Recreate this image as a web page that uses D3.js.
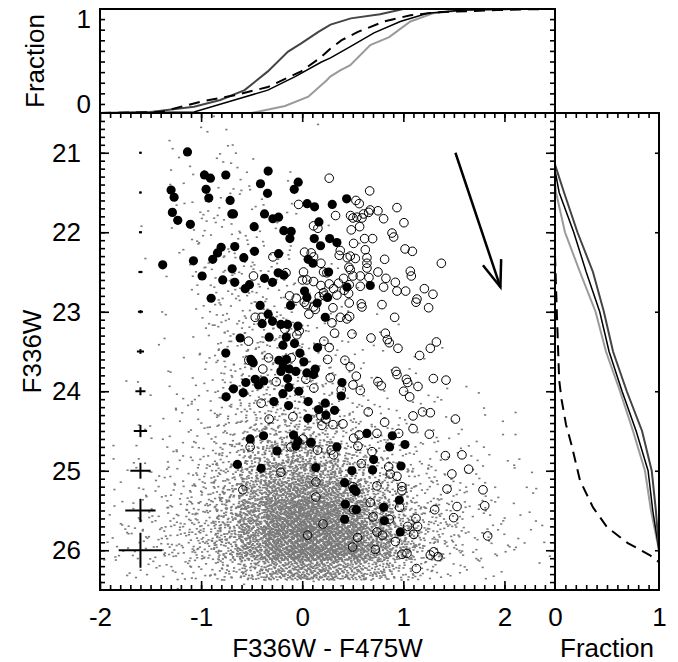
<!DOCTYPE html>
<html>
<head>
<meta charset="utf-8">
<script src="https://cdn.jsdelivr.net/npm/d3@7"></script>
<style>
  body { margin: 0; background: #fff; }
  svg { display: block; font-family: "Liberation Sans", Arial, Helvetica, sans-serif; }
  .tick text { font-size: 26px; font-family: "Liberation Sans", Arial, Helvetica, sans-serif; fill: #000; }
  .tick line { stroke: #000; stroke-width: 1.6; }
  .title { font-size: 26px; fill: #000; }
</style>
</head>
<body>
<div id="chart"></div>
<script>
// filled stars [F336W-F475W, F336W]
const filledStars = [
  [-1.135,20.99],[-0.967,21.28],[-0.908,21.32],[-0.756,21.28],[-0.337,21.23],[-0.413,21.39],[-0.040,21.37],[-0.079,21.46],
  [-0.343,21.51],[-1.297,21.47],[-1.267,21.56],[-0.951,21.46],[-0.924,21.57],[-0.713,21.60],[-1.284,21.75],[-1.231,21.85],
  [-1.106,21.90],[-0.696,21.77],[-0.680,21.77],[-0.373,21.77],[-0.290,21.83],[-0.234,21.81],[-0.475,21.93],[0.049,21.64],
  [0.122,21.68],[0.297,21.65],[0.439,21.58],[-0.182,21.98],[-0.109,21.99],[-0.122,22.08],[0.165,21.87],[0.119,22.08],
  [0.181,22.17],[0.271,22.08],[0.343,22.13],[-0.802,22.19],[-0.667,22.18],[-0.838,22.26],[-0.885,22.34],[-1.076,22.36],
  [-1.380,22.41],[-0.578,22.32],[-0.472,22.24],[-0.234,22.27],[0.059,22.34],[0.106,22.39],[-0.693,22.46],[-0.990,22.55],
  [-0.786,22.60],[-0.667,22.63],[-0.522,22.66],[-0.564,22.71],[-0.373,22.58],[-0.294,22.63],[-0.238,22.51],[-0.182,22.54],
  [0.261,22.50],[0.023,22.74],[0.046,22.82],[-0.116,22.92],[0.148,22.89],[-0.416,22.92],[0.228,23.07],[-0.901,22.83],
  [0.673,22.67],[0.442,22.69],[-0.337,23.03],[-0.396,23.15],[-0.294,23.12],[-0.211,23.16],[-0.145,23.16],[-0.043,23.18],
  [-0.327,23.32],[-0.614,23.33],[-0.158,23.32],[-0.191,23.42],[-0.076,23.40],[-0.756,23.52],[-0.508,23.60],[-0.485,23.64],
  [-0.231,23.61],[-0.155,23.60],[-0.188,23.69],[-0.211,23.75],[-0.129,23.72],[-0.063,23.75],[0.016,23.63],[-0.023,23.52],
  [0.046,23.77],[0.112,23.79],[0.129,23.72],[0.152,23.45],[-0.558,23.89],[-0.584,24.02],[-0.680,23.97],[-0.753,24.07],
  [-0.465,23.85],[-0.432,23.92],[-0.380,23.87],[-0.145,23.84],[-0.132,23.95],[-0.033,24.00],[-0.191,24.03],[-0.281,24.13],
  [-0.135,24.18],[0.059,24.13],[0.162,24.23],[0.228,24.15],[0.320,24.24],[0.234,24.30],[0.056,24.34],[0.393,23.89],
  [0.386,24.06],[-0.515,24.60],[-0.383,24.56],[-0.086,24.55],[-0.043,24.63],[0.086,24.64],[0.640,24.53],[0.891,24.56],
  [0.251,22.82],[-0.641,24.92],[-0.406,24.97],[0.135,24.96],[-0.250,24.75],[-0.062,24.69],[0.343,24.70],[0.706,24.86],
  [0.696,24.99],[0.864,24.70],[1.016,24.67],[0.977,24.94],[0.491,25.00],[0.419,25.15],[0.508,25.23],[0.532,25.26],
  [0.960,25.37],[0.426,25.42],[0.535,25.49],[0.805,25.46],[0.419,25.61],[0.812,25.63],[0.970,25.77]
];

// open stars [F336W-F475W, F336W]
const openStars = [
  [0.267,21.32],[0.667,21.48],[-0.036,21.65],[0.330,21.79],[0.531,21.60],[0.564,21.64],[0.112,21.92],[0.155,21.95],
  [0.478,21.79],[0.502,21.82],[0.541,21.81],[0.591,21.82],[0.607,21.77],[0.657,21.75],[0.673,21.72],[0.749,21.73],
  [0.937,21.69],[0.805,21.83],[0.485,21.97],[0.568,21.93],[0.508,22.14],[0.617,22.08],[0.696,22.08],[0.888,22.01],
  [0.904,22.06],[0.023,22.25],[0.089,22.26],[0.112,22.31],[0.185,22.39],[0.376,22.23],[0.366,22.29],[0.445,22.32],
  [0.475,22.30],[0.525,22.33],[0.640,22.32],[0.640,22.39],[0.640,22.45],[0.815,22.34],[0.624,22.22],[-0.290,22.31],
  [0.462,22.44],[0.475,22.47],[0.409,22.58],[0.574,22.55],[0.660,22.57],[0.749,22.50],[0.828,22.58],[0.921,22.63],
  [0.013,22.50],[0.003,22.60],[0.046,22.60],[0.112,22.62],[0.211,22.50],[0.244,22.51],[-0.482,22.55],[0.185,22.67],
  [0.267,22.65],[0.310,22.71],[0.360,22.64],[0.416,22.73],[0.465,22.66],[0.502,22.55],[0.574,22.68],[0.937,22.74],
  [0.805,22.69],[-0.125,22.80],[-0.059,22.83],[0.040,22.91],[0.020,22.88],[0.112,22.94],[0.168,22.81],[0.211,22.76],
  [0.221,22.80],[0.343,22.79],[0.459,22.77],[0.465,22.89],[0.584,22.90],[0.591,22.94],[0.789,22.91],[0.914,23.07],
  [-0.465,23.07],[-0.399,23.07],[0.066,23.03],[0.129,22.97],[0.304,22.95],[0.376,23.07],[0.469,23.06],[0.442,23.09],
  [0.294,23.14],[0.320,23.27],[0.492,23.28],[0.680,23.33],[0.822,23.27],[0.842,23.35],[0.861,23.39],[0.947,23.46],
  [-0.531,23.37],[-0.030,23.24],[-0.053,23.29],[-0.172,23.22],[0.214,23.37],[0.267,23.45],[-0.528,23.61],[-0.498,23.62],
  [-0.333,23.58],[-0.109,23.58],[-0.390,23.72],[0.251,23.60],[0.422,23.61],[0.475,23.69],[0.535,23.81],[0.277,23.83],
  [-0.257,23.88],[0.036,23.85],[0.115,23.96],[0.386,23.98],[0.574,23.99],[0.502,23.92],[0.749,23.88],[0.782,23.93],
  [0.927,23.75],[0.937,23.79],[-0.406,24.15],[-0.327,24.35],[-0.092,24.32],[0.185,24.31],[0.234,24.35],[0.304,24.42],
  [0.195,24.43],[0.403,24.41],[0.653,24.26],[0.815,24.39],[0.508,24.59],[0.564,24.55],[0.739,24.53],[0.954,24.53],
  [1.006,21.88],[1.017,22.21],[1.089,22.24],[1.376,22.39],[1.069,22.49],[1.079,22.55],[1.023,22.74],[1.208,22.71],
  [1.293,22.78],[1.135,22.84],[1.125,22.88],[1.250,22.95],[1.327,23.38],[1.267,23.46],[1.161,23.55],[1.030,23.85],
  [1.043,23.89],[1.003,24.00],[1.063,24.07],[1.145,23.94],[1.297,23.84],[1.422,23.86],[1.190,24.26],[1.267,24.27],
  [1.096,24.31],[1.515,24.35],[1.096,24.47],[1.257,24.54],
  [0.551,24.69],[0.690,24.76],[0.287,24.74],[0.310,24.80],[0.584,24.91],[0.855,24.95],[0.937,25.07],[0.871,25.04],
  [1.416,24.81],[1.580,24.80],[1.646,24.98],[1.480,25.04],[0.739,25.19],[0.986,25.20],[0.986,25.25],[1.432,25.23],
  [1.788,25.24],[0.501,25.20],[0.673,25.40],[0.963,25.46],[0.508,25.49],[0.700,25.58],[1.310,25.49],[1.531,25.45],
  [1.805,25.44],[1.498,25.59],[0.861,25.61],[1.125,25.60],[1.141,25.70],[1.043,25.70],[1.102,25.80],[0.739,25.77],
  [0.795,25.81],[0.921,25.89],[1.834,25.82],[0.548,25.84],[0.498,25.96],[0.723,25.99],[0.986,26.05],[1.036,26.04],
  [1.267,26.06],[1.300,26.02],[1.343,26.08],[1.129,26.23],
  [-0.515,24.70],[-0.112,24.70],[0.006,24.60],[0.086,24.65],[0.152,24.74],[-0.211,25.02],[-0.587,25.24],[0.135,25.14],
  [0.053,25.81],[0.135,25.33],[0.205,25.67],[-0.160,22.51]
];

// field stars: counts per 0.25 x 0.25 bin (rows: F336W from 20.5, columns: colour from -2.0)
const greyColorStart = -2.0, greyMagStart = 20.5, greyBin = 0.25;
const greyCounts = [
  [0,0,0,0,1,1,0,0,0,0,0,0,0,0,0,0,0,0],
  [0,0,0,2,3,1,0,0,1,0,0,0,0,0,0,0,0,0],
  [0,0,0,3,4,3,1,0,0,0,0,0,0,0,0,0,0,0],
  [0,0,1,2,4,3,2,1,0,0,0,0,0,0,0,0,0,0],
  [0,0,0,3,5,4,3,1,0,0,1,0,0,0,0,0,0,0],
  [0,0,0,4,6,5,3,2,1,0,0,0,0,0,0,0,0,0],
  [0,0,1,3,8,8,5,2,1,0,0,0,0,0,0,0,0,0],
  [0,0,1,3,9,10,6,4,2,1,0,0,0,0,0,0,0,0],
  [0,0,0,2,8,12,8,5,3,1,0,0,0,0,0,0,0,0],
  [0,0,0,2,7,14,10,7,4,2,1,0,0,0,0,0,0,0],
  [0,0,1,2,6,14,12,10,6,3,1,1,0,0,0,0,0,0],
  [0,0,0,2,6,14,14,12,8,4,2,1,1,0,0,0,0,0],
  [0,0,1,2,6,14,16,14,10,6,3,2,1,1,0,0,0,0],
  [0,1,1,3,7,14,18,18,14,8,4,3,2,1,1,0,0,0],
  [0,1,2,4,8,16,22,24,18,12,6,4,3,2,1,1,0,0],
  [0,1,2,5,10,18,28,32,24,16,9,6,4,3,2,1,1,0],
  [1,2,3,6,12,24,40,55,45,28,15,9,6,4,3,2,1,0],
  [1,2,4,8,18,34,65,95,85,55,28,16,10,6,4,3,1,1],
  [2,3,6,12,24,48,100,150,140,95,55,28,16,9,6,4,2,1],
  [3,5,9,16,32,65,140,210,200,150,90,45,24,13,8,5,3,1],
  [5,8,12,20,40,80,170,260,270,220,150,80,40,20,11,6,3,1],
  [7,10,15,24,45,90,190,290,300,270,190,105,52,25,13,7,4,2],
  [6,8,12,20,36,70,150,240,250,220,150,85,40,18,10,5,3,1],
  [0,1,1,1,1,2,3,3,3,2,1,1,0,0,0,0,0,0]
];

// photometric errors at colour -1.6
const errMag = [21, 21.5, 22, 22.5, 23, 23.5, 24, 24.5, 25, 25.5, 26];
const errColor = [0.012, 0.012, 0.015, 0.02, 0.025, 0.035, 0.05, 0.066, 0.1, 0.15, 0.215];
const errMagSize = [0.012, 0.012, 0.012, 0.015, 0.02, 0.03, 0.05, 0.077, 0.1, 0.147, 0.22];
const errColorPos = -1.6;

// reddening vector
const arrowColor = [1.515, 1.96];
const arrowMag = [21.0, 22.69];

// cumulative colour distributions [colour, fraction]
const topDark = [[-2,0],[-1.5,0.01],[-1.07,0.06],[-0.81,0.125],[-0.57,0.22],[-0.34,0.40],[-0.14,0.59],[-0.01,0.67],[0.16,0.78],[0.28,0.85],[0.48,0.91],[0.77,0.95],[1.0,1.0],[2.5,1.0]];
const topDashed = [[-2,0],[-1.4,0.01],[-1.0,0.11],[-0.67,0.17],[-0.34,0.25],[-0.01,0.40],[0.19,0.54],[0.28,0.62],[0.39,0.70],[0.55,0.78],[0.81,0.88],[1.07,0.94],[1.37,0.97],[1.93,0.99],[2.4,1.0],[2.5,1.0]];
const topBlack = [[-2,0],[-1.07,0.01],[-0.67,0.125],[-0.34,0.22],[-0.07,0.35],[0.19,0.49],[0.28,0.53],[0.48,0.64],[0.71,0.77],[0.97,0.88],[1.24,0.96],[1.6,0.99],[2.2,1.0],[2.5,1.0]];
const topLight = [[-0.5,0],[-0.17,0.067],[0.06,0.157],[0.245,0.317],[0.277,0.35],[0.376,0.41],[0.475,0.46],[0.673,0.654],[0.86,0.73],[1.07,0.88],[1.3,0.96],[1.6,0.99],[2.2,1.0],[2.5,1.0]];

// cumulative magnitude distributions [F336W, fraction]
const rightDark = [[21.15,0],[21.5,0.087],[22,0.216],[22.5,0.365],[23,0.47],[23.5,0.558],[24,0.69],[24.5,0.837],[25,0.93],[25.5,0.97],[26.0,1.0]];
const rightBlack = [[21.22,0],[21.5,0.04],[22,0.18],[22.5,0.30],[23,0.43],[23.5,0.52],[24,0.645],[24.5,0.78],[25,0.895],[25.5,0.94],[26.0,1.0]];
const rightLight = [[21.38,0],[21.5,0.01],[22,0.096],[22.5,0.24],[23,0.39],[23.5,0.49],[24,0.625],[24.5,0.75],[25,0.865],[25.5,0.923],[26.0,1.0]];
const rightDashed = [[22.29,0],[23.1,0.02],[23.86,0.04],[24.11,0.064],[24.42,0.106],[24.68,0.16],[25.12,0.24],[25.46,0.365],[25.71,0.5],[25.91,0.70],[26.06,0.91],[26.15,1.0]];

// ticks
const majorColor = [-2, -1, 0, 1, 2];
const minorColor = d3.range(-19, 25).map(v => v / 10);
const majorMag = [21, 22, 23, 24, 25, 26];
const minorMag = d3.range(206, 265).map(v => v / 10);
const fracLabels = [0, 1];
const minorFrac = d3.range(1, 10).map(v => v / 10);
const topTicks = d3.range(9).map(i => 0.087 + i * 0.102);

const width = 678, height = 662;
const svg = d3.select("#chart").append("svg")
  .attr("width", width)
  .attr("height", height);

const x = d3.scaleLinear().domain([-2, 2.5]).range([100, 555]);
const y = d3.scaleLinear().domain([20.5, 26.5]).range([113, 590]);
const xFrac = d3.scaleLinear().domain([0, 1]).range([555, 659]);
const yFrac = d3.scaleLinear().domain([0, 1]).range([113, 9]);

svg.append("clipPath").attr("id", "mainClip")
  .append("rect").attr("x", 100).attr("y", 113).attr("width", 455).attr("height", 477);

// field stars spread through their bins (Halton placement, no randomness)
function halton(i, b) {
  let f = 1, r = 0;
  while (i > 0) { f /= b; r += f * (i % b); i = Math.floor(i / b); }
  return r;
}
const dots = [];
let k = 1;
greyCounts.forEach((row, i) => {
  row.forEach((n, j) => {
    for (let s = 0; s < n; s++, k++) {
      const u = halton(k, 2), v = halton(k, 3);
      dots.push([greyColorStart + (j + u * 2 - 0.5) * greyBin,
                 greyMagStart + (i + v * 2 - 0.5) * greyBin]);
    }
  });
});

const main = svg.append("g").attr("clip-path", "url(#mainClip)");
main.append("g").selectAll("rect")
  .data(dots)
  .join("rect")
  .attr("x", d => x(d[0]) - 1.1)
  .attr("y", d => y(d[1]) - 0.8)
  .attr("width", 2.2)
  .attr("height", 1.6)
  .attr("fill", "#7a7a7a");

main.append("g").selectAll("circle")
  .data(openStars)
  .join("circle")
  .attr("cx", d => x(d[0]))
  .attr("cy", d => y(d[1]))
  .attr("r", 4.3)
  .attr("fill", "none")
  .attr("stroke", "#000")
  .attr("stroke-width", 1);

main.append("g").selectAll("circle")
  .data(filledStars)
  .join("circle")
  .attr("cx", d => x(d[0]))
  .attr("cy", d => y(d[1]))
  .attr("r", 4.6)
  .attr("fill", "#000");

// error crosses
const errG = svg.append("g").attr("stroke", "#000").attr("stroke-width", 2);
errMag.forEach((m, i) => {
  errG.append("line")
    .attr("x1", x(errColorPos - errColor[i])).attr("x2", x(errColorPos + errColor[i]))
    .attr("y1", y(m)).attr("y2", y(m));
  errG.append("line")
    .attr("x1", x(errColorPos)).attr("x2", x(errColorPos))
    .attr("y1", y(m - errMagSize[i])).attr("y2", y(m + errMagSize[i]));
});

// reddening arrow
const ax0 = x(arrowColor[0]), ay0 = y(arrowMag[0]);
const ax1 = x(arrowColor[1]), ay1 = y(arrowMag[1]);
const ang = Math.atan2(ay0 - ay1, ax0 - ax1);
const arrowG = svg.append("g").attr("stroke", "#000").attr("stroke-width", 2.5).attr("fill", "none");
arrowG.append("line").attr("x1", ax0).attr("y1", ay0).attr("x2", ax1).attr("y2", ay1);
arrowG.append("path")
  .attr("d", `M${ax1 + 28 * Math.cos(ang + 0.35)},${ay1 + 28 * Math.sin(ang + 0.35)}L${ax1},${ay1}L${ax1 + 28 * Math.cos(ang - 0.35)},${ay1 + 28 * Math.sin(ang - 0.35)}`);

// cumulative curves
const topLine = d3.line().x(d => x(d[0])).y(d => yFrac(d[1]));
const rightLine = d3.line().x(d => xFrac(d[1])).y(d => y(d[0]));
const curveStyles = [
  { top: topLight, right: rightLight, color: "#9a9a9a", w: 2, dash: null },
  { top: topBlack, right: rightBlack, color: "#000", w: 1.5, dash: null },
  { top: topDark, right: rightDark, color: "#444", w: 2, dash: null },
  { top: topDashed, right: rightDashed, color: "#000", w: 2, dash: "11,7" }
];
curveStyles.forEach(c => {
  svg.append("path").attr("d", topLine(c.top))
    .attr("fill", "none").attr("stroke", c.color).attr("stroke-width", c.w)
    .attr("stroke-dasharray", c.dash);
  svg.append("path").attr("d", rightLine(c.right))
    .attr("fill", "none").attr("stroke", c.color).attr("stroke-width", c.w)
    .attr("stroke-dasharray", c.dash);
});

// axes
const noDomain = g => g.select(".domain").remove();
const fmt = d => String(d);

// main panel
svg.append("g").attr("transform", "translate(100,0)")
  .call(d3.axisLeft(y).tickValues(minorMag).tickSize(-5).tickFormat("")).call(noDomain);
svg.append("g").attr("transform", "translate(100,0)")
  .call(d3.axisLeft(y).tickValues(majorMag).tickSize(-9).tickPadding(19).tickFormat(fmt)).call(noDomain);
svg.append("g").attr("transform", "translate(555,0)")
  .call(d3.axisRight(y).tickValues(minorMag).tickSize(-5).tickFormat("")).call(noDomain);
svg.append("g").attr("transform", "translate(555,0)")
  .call(d3.axisRight(y).tickValues(majorMag).tickSize(-9).tickFormat("")).call(noDomain);
svg.append("g").attr("transform", "translate(0,590)")
  .call(d3.axisBottom(x).tickValues(minorColor).tickSize(-5).tickFormat("")).call(noDomain);
svg.append("g").attr("transform", "translate(0,590)")
  .call(d3.axisBottom(x).tickValues(majorColor).tickSize(-9).tickPadding(18).tickFormat(fmt)).call(noDomain);
svg.append("g").attr("transform", "translate(0,113)")
  .call(d3.axisTop(x).tickValues(minorColor).tickSize(-5).tickFormat("")).call(noDomain);
svg.append("g").attr("transform", "translate(0,113)")
  .call(d3.axisTop(x).tickValues(majorColor).tickSize(-9).tickFormat("")).call(noDomain);

// right panel
svg.append("g").attr("transform", "translate(0,113)")
  .call(d3.axisTop(xFrac).tickValues(minorFrac).tickSize(-5).tickFormat("")).call(noDomain);
svg.append("g").attr("transform", "translate(0,590)")
  .call(d3.axisBottom(xFrac).tickValues(minorFrac).tickSize(-5).tickFormat("")).call(noDomain);
svg.append("g").attr("transform", "translate(0,590)")
  .call(d3.axisBottom(xFrac).tickValues(fracLabels).tickSize(0).tickPadding(18).tickFormat(fmt)).call(noDomain);
svg.append("g").attr("transform", "translate(659,0)")
  .call(d3.axisRight(y).tickValues(majorMag).tickSize(-4).tickFormat("")).call(noDomain);

// top panel
svg.append("g").attr("transform", "translate(100,0)")
  .call(d3.axisLeft(yFrac).tickValues(topTicks).tickSize(-5).tickPadding(9)
    .tickFormat((d, i) => i === 0 ? "0" : i === topTicks.length - 1 ? "1" : "")).call(noDomain);
svg.append("g").attr("transform", "translate(555,0)")
  .call(d3.axisRight(yFrac).tickValues(topTicks).tickSize(-5).tickFormat("")).call(noDomain);

// frames
const frame = svg.append("g").attr("fill", "none").attr("stroke", "#000").attr("stroke-width", 2);
frame.append("rect").attr("x", x(-2)).attr("y", y(20.5)).attr("width", x(2.5) - x(-2)).attr("height", y(26.5) - y(20.5));
frame.append("rect").attr("x", x(-2)).attr("y", yFrac(1)).attr("width", x(2.5) - x(-2)).attr("height", yFrac(0) - yFrac(1));
frame.append("rect").attr("x", xFrac(0)).attr("y", y(20.5)).attr("width", xFrac(1) - xFrac(0)).attr("height", y(26.5) - y(20.5));

// titles
svg.append("text").attr("class", "title").attr("x", (x(-2) + x(2.5)) / 2).attr("y", 657)
  .attr("text-anchor", "middle").text("F336W - F475W");
svg.append("text").attr("class", "title").attr("x", (xFrac(0) + xFrac(1)) / 2).attr("y", 657)
  .attr("text-anchor", "middle").text("Fraction");
svg.append("text").attr("class", "title").attr("transform", `translate(41,${(y(20.5) + y(26.5)) / 2}) rotate(-90)`)
  .attr("text-anchor", "middle").text("F336W");
svg.append("text").attr("class", "title").attr("transform", `translate(44,${(yFrac(0) + yFrac(1)) / 2}) rotate(-90)`)
  .attr("text-anchor", "middle").text("Fraction");
</script>
</body>
</html>
